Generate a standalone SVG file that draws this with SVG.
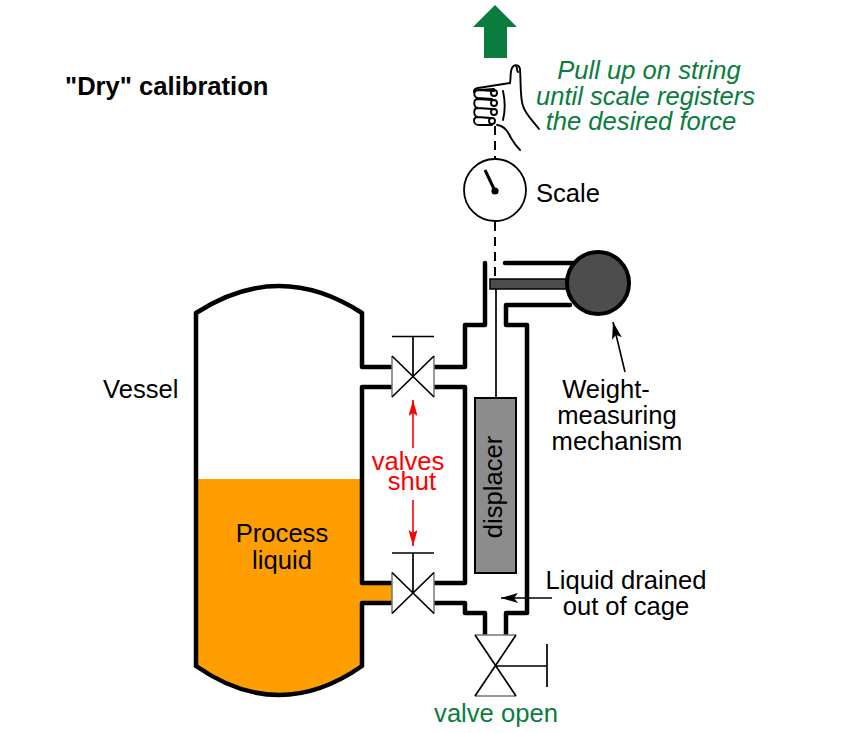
<svg xmlns="http://www.w3.org/2000/svg" width="858" height="733" viewBox="0 0 858 733">
<style>
text{font-family:"Liberation Sans",Arial,sans-serif;font-size:25.600px;fill:#000}
.m{text-anchor:middle}
.g{fill:#0a7d3e}
.r{fill:#f00}
.w{fill:none;stroke:#000;stroke-width:4.500;stroke-linejoin:round;stroke-linecap:round}
.t{fill:none;stroke:#000;stroke-width:1.700;stroke-linejoin:miter}
.e{fill:none;stroke:#777;stroke-width:1.500}
.h{fill:none;stroke:#000;stroke-width:1.900;stroke-linecap:round;stroke-linejoin:round}
.d{fill:none;stroke:#000;stroke-width:2;stroke-dasharray:9 6}
.a{fill:none;stroke:#000;stroke-width:1.600}
.ar{fill:none;stroke:#f00;stroke-width:1.600}
</style>
<defs>
<marker id="ah" markerUnits="userSpaceOnUse" markerWidth="20" markerHeight="12" refX="17" refY="5" orient="auto"><path d="M0 0L17 5L0 10L4 5Z" fill="#000"/></marker>
<marker id="rh" markerUnits="userSpaceOnUse" markerWidth="18" markerHeight="10" refX="16" refY="4.500" orient="auto"><path d="M0 0L16 4.500L0 9L3 4.500Z" fill="#f00"/></marker>
<g id="valveH"><path d="M-21 -20.500L21 20.500V-20.500L-21 20.500Z" fill="#fff"/><path class="e" d="M-21 -20.500V20.500M21 -20.500V20.500"/><path class="t" d="M-21 -20.500L21 20.500M21 -20.500L-21 20.500M0 0V-40M-21 -40H21"/></g>
</defs>

<g id="vessel">
<path d="M196 479H362V585H392V601H362V666Q279 724 196 666Z" fill="#ff9e00"/>
<path class="w" d="M196 666V313Q279 259 362 313V367H392M392 387H362V583H392M392 603H362V666Q279 724 196 666"/>
</g>

<g id="cage">
<path class="w" d="M433 367H465V325H485V263M505 263H575M570 305H506V325H527V613H506V635M485 635V613H465V603H433M433 583H465V387H433"/>
</g>

<g id="connectors">
<path class="d" d="M495 126V160M495 222V279"/>
<path class="t" d="M496 288V398"/>
<path class="a" d="M625 372L613 322" marker-end="url(#ah)"/>
<path class="a" d="M552 598H501" marker-end="url(#ah)"/>
<path class="ar" d="M413 448V400" marker-end="url(#rh)"/>
<path class="ar" d="M413 500V546" marker-end="url(#rh)"/>
</g>

<g id="valve-upper"><use href="#valveH" x="413" y="376.500"/></g>
<g id="valve-lower"><use href="#valveH" x="413" y="593"/></g>
<g id="valve-drain">
<path d="M475 635H516L475 696H516Z" fill="#fff"/>
<path class="e" d="M475 635H516M475 696H516"/>
<path class="t" d="M475 635L516 696M516 635L475 696M496 666H547M547 644V687"/>
</g>

<g id="displacer">
<rect x="475" y="398" width="41" height="175" fill="#8c8c8c" stroke="#000" stroke-width="2"/>
<text class="m" transform="translate(502 487) rotate(-90)">displacer</text>
</g>

<g id="mechanism">
<rect x="490" y="279" width="80" height="10" fill="#4d4d4d" stroke="#000" stroke-width="1.500"/>
<circle cx="598" cy="283" r="31" fill="#4d4d4d" stroke="#000" stroke-width="4"/>
</g>

<g id="scale">
<circle cx="495" cy="190" r="31" fill="#fff" stroke="#000" stroke-width="1.800"/>
<path d="M485 170L495 191" stroke="#000" stroke-width="3" fill="none"/>
<circle cx="495" cy="191" r="3.600" fill="#000"/>
<text x="536" y="202">Scale</text>
</g>

<g id="hand">
<path class="h" d="M510 83C511 78 510 72 512 68C514 64 519 64 520 69C521 84 520 98 523 106C526 115 533 121 539 129"/>
<path class="h" d="M510 83L478 88C474 89 474 90 474 92M480 90L494 89M516 66C518 68 516 70 518 72"/>
<path class="h" d="M494 91L479 90C473 90 473 97 478 98L492 99M492 100L478 99C473 99 473 107 478 108L492 109M492 109L478 108C473 108 473 116 478 117L491 118M490 118L478 117C472 117 473 125 479 125L492 125"/>
<circle class="h" cx="494" cy="93" r="3"/><circle class="h" cx="494" cy="103" r="3"/><circle class="h" cx="494" cy="112" r="3"/><circle class="h" cx="492" cy="121" r="3"/>
<path class="h" d="M503 91C505 100 505 112 503 120M497 125C505 126 508 132 511 138C514 143 517 147 520 150"/>
</g>

<g id="arrow-up"><path class="g" d="M495 5L517 27H507V58H484V27H473Z"/></g>

<g id="labels">
<text x="65" y="95" style="font-weight:700">"Dry" calibration</text>
<text class="g m" x="649" y="78.500" style="font-style:italic">Pull up on string</text>
<text class="g m" x="645.500" y="104.500" style="font-style:italic">until scale registers</text>
<text class="g m" x="641" y="130" style="font-style:italic">the desired force</text>
<text x="103" y="398">Vessel</text>
<text class="m" x="282" y="542">Process</text>
<text class="m" x="282" y="568.500">liquid</text>
<text class="m r" x="408" y="470">valves</text>
<text class="m r" x="412" y="490">shut</text>
<text class="m" x="606" y="398">Weight-</text>
<text class="m" x="617" y="424">measuring</text>
<text class="m" x="617" y="450">mechanism</text>
<text class="m" x="626" y="589">Liquid drained</text>
<text class="m" x="626" y="615">out of cage</text>
<text class="m g" x="496" y="722">valve open</text>
</g>
</svg>
